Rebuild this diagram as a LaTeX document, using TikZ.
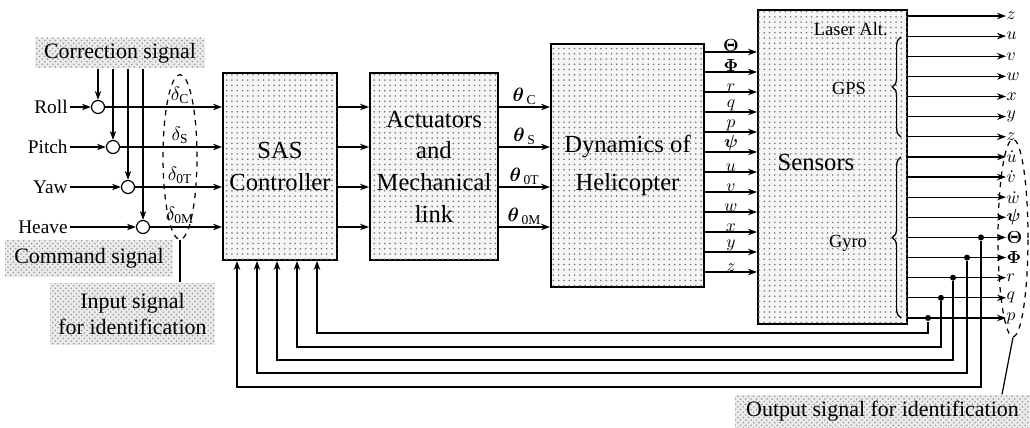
\documentclass[tikz,border=0pt]{standalone}
\usepackage{amsmath}
\usepackage{fontspec}
\setmainfont{Liberation Serif}
\usetikzlibrary{positioning, arrows.meta, calc, shapes.geometric, patterns, decorations.pathreplacing}
\tikzset{every node/.append style={execute at begin node={\hyphenpenalty=10000\exhyphenpenalty=10000\relax}}}

\begin{document}
\begin{tikzpicture}[x=0.02cm,y=-0.02cm,font=\fontsize{11}{13}\selectfont,>={Stealth[length=1.8mm,width=1.3mm]},line width=0.7pt,
  blk/.style={draw,line width=1.1pt,fill=black!4,postaction={pattern=dots,pattern color=black!55},align=center,inner sep=1pt,font=\fontsize{14}{18}\selectfont},
  tag/.style={fill=black!8,postaction={pattern=crosshatch dots,pattern color=black!40},align=center,inner sep=0pt,font=\fontsize{12.5}{15}\selectfont},
  sum/.style={draw,circle,fill=white,minimum size=0.26cm,inner sep=0pt},
  lbl/.style={inner sep=1pt,font=\fontsize{10}{12}\selectfont},
  fbdot/.style={circle,fill,inner sep=0pt,minimum size=1.2mm}]
  \useasboundingbox (0,0) rectangle (1030,428);
  \node[blk,minimum width=2.28cm,minimum height=3.74cm](sas) at (280,166.5){SAS\\Controller};
  \node[blk,minimum width=2.56cm,minimum height=3.74cm](act) at (434,166.5){Actuators\\and\\Mechanical\\link};
  \node[blk,minimum width=3.06cm,minimum height=4.86cm,font=\fontsize{14}{22}\selectfont](dyn) at (627.5,165.5){Dynamics of\\Helicopter};
  \node[blk,minimum width=2.98cm,minimum height=6.28cm](sens) at (832.5,167){};
  \node[font=\fontsize{14}{17}\selectfont](senstxt) at (816,162){Sensors};
  \node[lbl,anchor=east,font=\fontsize{10.5}{12}\selectfont](laser) at (890,29){Laser Alt.};
  \node[lbl,font=\fontsize{10.5}{12}\selectfont](gps) at (849,88){GPS};
  \node[lbl,font=\fontsize{10.5}{12}\selectfont](gyro) at (848,243){Gyro};
  \draw[decorate,decoration={brace,amplitude=5pt}] (901,137) -- (901,37);
  \draw[decorate,decoration={brace,amplitude=5pt}] (901,318) -- (901,157);
  \node[tag,minimum width=3.4cm,minimum height=0.6cm](corr) at (120,53){Correction signal};
  \node[tag,minimum width=3.36cm,minimum height=0.74cm](cmd) at (89,258.5){Command signal};
  \node[tag,minimum width=3.3cm,minimum height=1.24cm](inp) at (132.5,314){Input signal\\for identification};
  \node[tag,minimum width=5.9cm,minimum height=0.66cm](outp) at (882.5,411.5){Output signal for identification};
  \foreach \n/\i/\xx/\yy/\d in {Roll/1/98/107/C,Pitch/2/113/147/S,Yaw/3/128/187/0T,Heave/4/143/227/0M}{
    \node[sum](s\i) at (\xx,\yy){};
    \node[anchor=east,inner sep=1pt](in\i) at (70,\yy){\n};
    \draw[->] (in\i) -- (s\i);
    \draw[->] (corr.south -| s\i) -- (s\i);
    \draw[->] (s\i) -- (s\i -| sas.west);
    \node[inner sep=0pt](dl\i) at (180,\yy-12){$\delta_{\mathrm{\d}}$};
    \draw[->] (sas.east |- s\i) -- (act.west |- s\i);
    \draw[->] (act.east |- s\i) -- (dyn.west |- s\i) node[midway,above=1pt,inner sep=0pt](th\i){$\boldsymbol{\theta}_{\,\mathrm{\d}}$};}
  \node[draw,dashed,ellipse,minimum width=0.68cm,minimum height=3.3cm,inner sep=0pt](inel) at (180,157){};
  \draw (inel.south) -- (inel.south |- inp.north);
  \foreach \t [count=\k from 0] in {\boldsymbol{\Theta},\boldsymbol{\Phi},r,q,p,\boldsymbol{\psi},u,v,w,x,y,z}{
    \pgfmathsetmacro\yy{52+20*\k}
    \coordinate (d\k) at (dyn.east |- 0,\yy);
    \draw[->] (d\k) -- (d\k -| sens.west) node[lbl,midway,above=-1pt](dt\k){$\t$};}
  \foreach \t [count=\k from 0] in {z,u,v,w,x,y,z,\dot{u},\dot{v},\dot{w},\boldsymbol{\psi},\boldsymbol{\Theta},\boldsymbol{\Phi},r,q,p}{
    \pgfmathsetmacro\yy{16+20.13*\k}
    \coordinate (r\k) at (sens.east |- 0,\yy);
    \node[anchor=west,inner sep=0pt,font=\fontsize{10}{12}\selectfont](o\k) at (1006,\yy){$\t$};
    \draw[->] (r\k) -- (o\k.west);}
  \node[draw,dashed,ellipse,minimum width=0.6cm,minimum height=3.95cm,inner sep=0pt](outel) at (1013,238){};
  \draw (outel.south) -- (outp.north -| 1002,0);
  \foreach \k/\xd/\yf/\xs in {11/981/387/237,12/967/373/257,13/953/360/277,14/941/347/297,15/928/333/317}{
    \node[fbdot](fb\k) at (\xd,0 |- r\k){};
    \draw[->] (fb\k) |- (\xs,\yf) -- (sas.south -| \xs,0);}
\end{tikzpicture}
\end{document}
